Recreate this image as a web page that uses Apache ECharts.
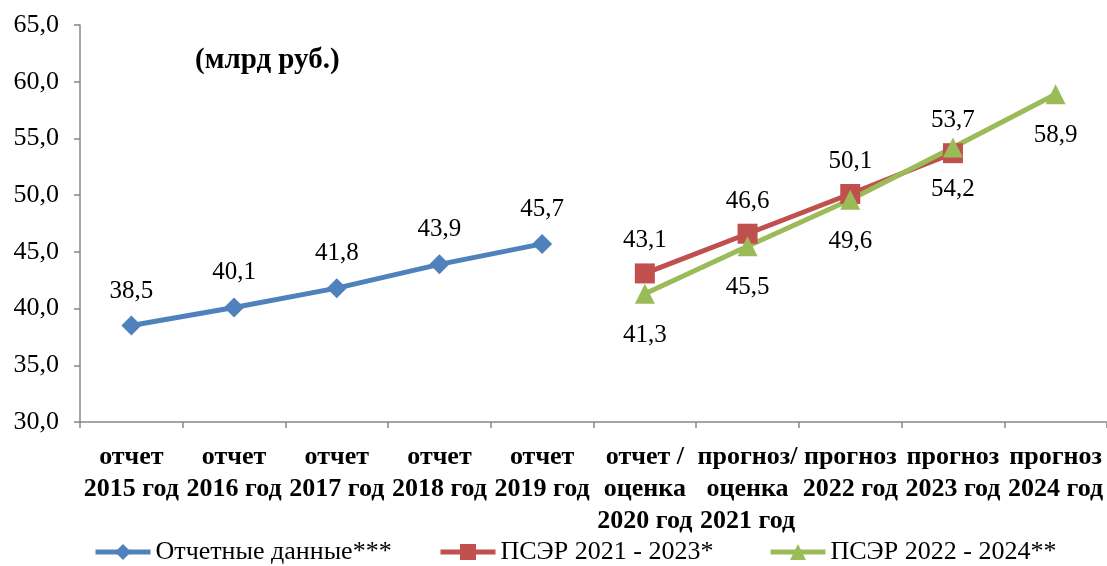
<!DOCTYPE html>
<html>
<head>
<meta charset="utf-8">
<script src="https://cdn.jsdelivr.net/npm/echarts@6/dist/echarts.min.js"></script>
<style>html,body{margin:0;padding:0;background:#fff}#c{width:1107px;height:566px}</style>
</head>
<body>
<div id="c"></div>
<script>
const categories = [
  'отчет\n2015 год', 'отчет\n2016 год', 'отчет\n2017 год', 'отчет\n2018 год', 'отчет\n2019 год',
  'отчет /\nоценка\n2020 год', 'прогноз/\nоценка\n2021 год', 'прогноз\n2022 год', 'прогноз\n2023 год', 'прогноз\n2024 год'
];
const reportData = [38.5, 40.1, 41.8, 43.9, 45.7, null, null, null, null, null];
const pser2123 = [null, null, null, null, null, 43.1, 46.6, 50.1, 53.7, null];
const pser2224 = [null, null, null, null, null, 41.3, 45.5, 49.6, 54.2, 58.9];
const seriesNames = ['Отчетные данные***', 'ПСЭР 2021 - 2023*', 'ПСЭР 2022 - 2024**'];
const yTicks = {min: 30, max: 65, interval: 5};
const unitTitle = '(млрд руб.)';

const fmt = v => v.toFixed(1).replace('.', ',');
const font = '"Liberation Serif", "Times New Roman", serif';
const chart = echarts.init(document.getElementById('c'));
const lbl = (pos, dist) => ({show: true, position: pos, distance: dist, fontFamily: font, fontSize: 25, color: '#000',
  formatter: p => fmt(p.value)});
const legendAt = (name, left) => ({
  bottom: -4, left: left, itemWidth: 55, itemHeight: 20,
  lineStyle: {width: 5},
  textStyle: {fontFamily: font, fontSize: 26, color: '#000'},
  data: [name]
});
chart.setOption({
  animation: false,
  textStyle: {fontFamily: font},
  grid: {left: 80, top: 25, width: 1030, height: 397},
  graphic: [{type: 'text', left: 195, top: 46, style: {text: unitTitle, fontFamily: font, fontSize: 29, fontWeight: 'bold', fill: '#000'}}],
  legend: [legendAt(seriesNames[0], 88), legendAt(seriesNames[1], 433), legendAt(seriesNames[2], 763)],
  xAxis: {
    type: 'category', data: categories, boundaryGap: true,
    axisLine: {lineStyle: {color: '#888888', width: 1.5}},
    axisTick: {show: true, length: 6, lineStyle: {color: '#888888', width: 1.5}},
    axisLabel: {interval: 0, margin: 19, fontFamily: font, fontSize: 26, fontWeight: 'bold', color: '#000', lineHeight: 32}
  },
  yAxis: {
    type: 'value', min: yTicks.min, max: yTicks.max, interval: yTicks.interval,
    splitLine: {show: false},
    axisLine: {show: true, lineStyle: {color: '#888888', width: 1.5}},
    axisTick: {show: true, length: 6, lineStyle: {color: '#888888', width: 1.5}},
    axisLabel: {margin: 21, fontFamily: font, fontSize: 26, color: '#000', formatter: v => fmt(v)}
  },
  series: [
    {name: seriesNames[0], type: 'line', data: reportData, color: '#4F81BD',
      lineStyle: {width: 5, color: '#4F81BD'}, symbol: 'diamond', symbolSize: 20,
      itemStyle: {color: '#4F81BD'}, label: lbl('top', 12)},
    {name: seriesNames[1], type: 'line', data: pser2123, color: '#C0504D',
      lineStyle: {width: 5, color: '#C0504D'}, symbol: 'rect', symbolSize: 20,
      itemStyle: {color: '#C0504D'}, label: lbl('top', 10)},
    {name: seriesNames[2], type: 'line', data: pser2224, color: '#9BBB59',
      lineStyle: {width: 5, color: '#9BBB59'}, symbol: 'triangle', symbolSize: 20,
      itemStyle: {color: '#9BBB59'}, label: lbl('bottom', 19)}
  ]
});
</script>
</body>
</html>
